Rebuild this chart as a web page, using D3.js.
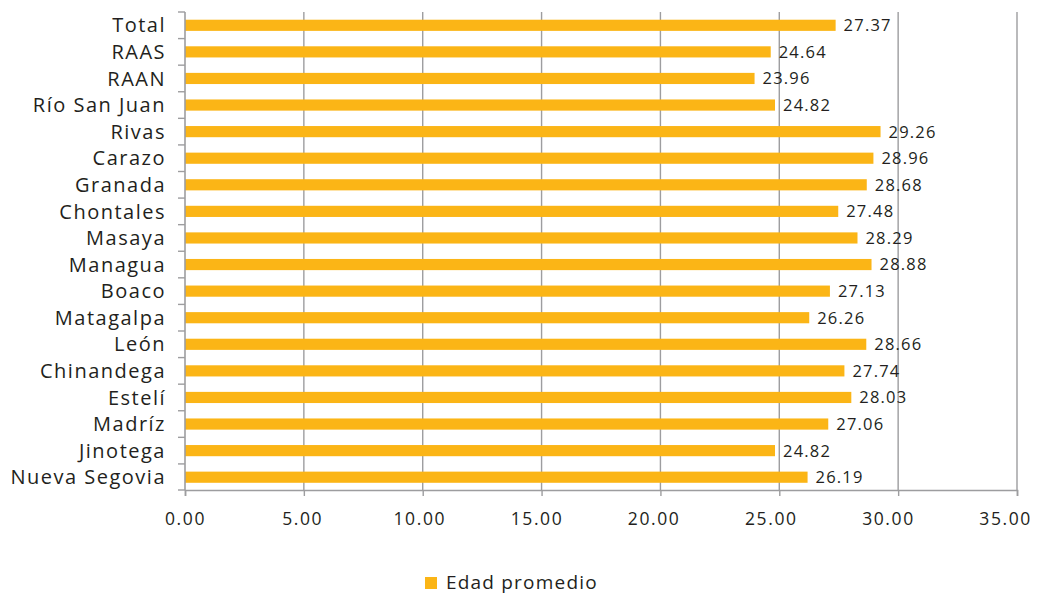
<!DOCTYPE html>
<html>
<head>
<meta charset="utf-8">
<script src="https://cdn.jsdelivr.net/npm/d3@7"></script>
<style>
  body { margin: 0; background: #fff; }
  text { font-family: "Open Sans", sans-serif; fill: #231f20; }
</style>
</head>
<body>
<div id="chart"></div>
<script>
// Data (top to bottom as drawn)
const departments = ["Total", "RAAS", "RAAN", "Río San Juan", "Rivas", "Carazo", "Granada",
    "Chontales", "Masaya", "Managua", "Boaco", "Matagalpa", "León", "Chinandega",
    "Estelí", "Madríz", "Jinotega", "Nueva Segovia"];
const edadPromedio = [27.37, 24.64, 23.96, 24.82, 29.26, 28.96, 28.68, 27.48, 28.29,
    28.88, 27.13, 26.26, 28.66, 27.74, 28.03, 27.06, 24.82, 26.19];
const xTicks = [0, 5, 10, 15, 20, 25, 30, 35];
const seriesName = "Edad promedio";

const data = departments.map((d, i) => ({ name: d, value: edadPromedio[i] }));

const w = 1037, h = 595;
const margin = { top: 12, right: 20, bottom: 105, left: 185 };
const barColor = "#fbb516";
const gridColor = "#9d9d9f";

const svg = d3.select("#chart").append("svg")
    .attr("width", w)
    .attr("height", h);

// Scales
const x = d3.scaleLinear()
    .domain([0, 35])
    .range([margin.left, 1017]);

const y = d3.scaleBand()
    .domain(departments)
    .range([margin.top, h - margin.bottom + 0.5])
    .paddingInner(0.58)
    .paddingOuter(0.29);

// Gridlines
svg.append("g")
    .selectAll("line")
    .data(xTicks.slice(1))
    .enter()
    .append("line")
    .attr("x1", d => x(d))
    .attr("x2", d => x(d))
    .attr("y1", margin.top)
    .attr("y2", h - margin.bottom)
    .attr("stroke", gridColor)
    .attr("stroke-width", 1.4);

// Bars
svg.selectAll("rect.bar")
    .data(data)
    .enter()
    .append("rect")
    .attr("class", "bar")
    .attr("x", x(0))
    .attr("y", d => y(d.name))
    .attr("width", d => x(d.value) - x(0))
    .attr("height", y.bandwidth())
    .attr("fill", barColor);

// Value labels
svg.selectAll("text.val")
    .data(data)
    .enter()
    .append("text")
    .attr("class", "val")
    .attr("x", d => x(d.value) + 8)
    .attr("y", d => y(d.name) + y.bandwidth() / 2)
    .attr("dy", "0.36em")
    .attr("font-size", 16.5)
    .attr("letter-spacing", 1.2)
    .text(d => d.value.toFixed(2));

// X axis
const xAxis = svg.append("g")
    .attr("transform", `translate(0, ${h - margin.bottom})`)
    .call(d3.axisBottom(x).tickValues(xTicks).tickFormat(d3.format(".2f")).tickSize(6).tickPadding(17));
xAxis.select(".domain").attr("stroke", gridColor).attr("stroke-width", 1.6);
xAxis.selectAll(".tick line").attr("stroke", gridColor).attr("stroke-width", 1.4);
xAxis.selectAll(".tick text")
    .attr("font-size", 17.5)
    .attr("font-family", "'Open Sans', sans-serif")
    .attr("letter-spacing", 1.6)
    .attr("dx", d => -d * 0.34)
    .attr("fill", "#231f20");

// Y axis (ticks between categories)
const yEdges = departments.map(d => y(d) - y.step() * y.paddingInner() / 2);
yEdges.push(h - margin.bottom);
svg.append("line")
    .attr("x1", x(0)).attr("x2", x(0))
    .attr("y1", margin.top).attr("y2", h - margin.bottom)
    .attr("stroke", gridColor).attr("stroke-width", 1.6);
svg.append("g")
    .selectAll("line")
    .data(yEdges)
    .enter()
    .append("line")
    .attr("x1", x(0) - 7).attr("x2", x(0))
    .attr("y1", d => d).attr("y2", d => d)
    .attr("stroke", gridColor).attr("stroke-width", 1.4);

// Category labels
svg.selectAll("text.cat")
    .data(data)
    .enter()
    .append("text")
    .attr("class", "cat")
    .attr("x", 166)
    .attr("y", d => y(d.name) + y.bandwidth() / 2)
    .attr("dy", "0.36em")
    .attr("text-anchor", "end")
    .attr("font-size", 20)
    .attr("letter-spacing", 1.5)
    .text(d => d.name);

// Legend
const legend = svg.append("g").attr("transform", "translate(425, 577)");
legend.append("rect")
    .attr("width", 12).attr("height", 12)
    .attr("fill", barColor);
legend.append("text")
    .attr("x", 21)
    .attr("y", 12)
    .attr("font-size", 19)
    .attr("letter-spacing", 1.2)
    .text(seriesName);
</script>
</body>
</html>
